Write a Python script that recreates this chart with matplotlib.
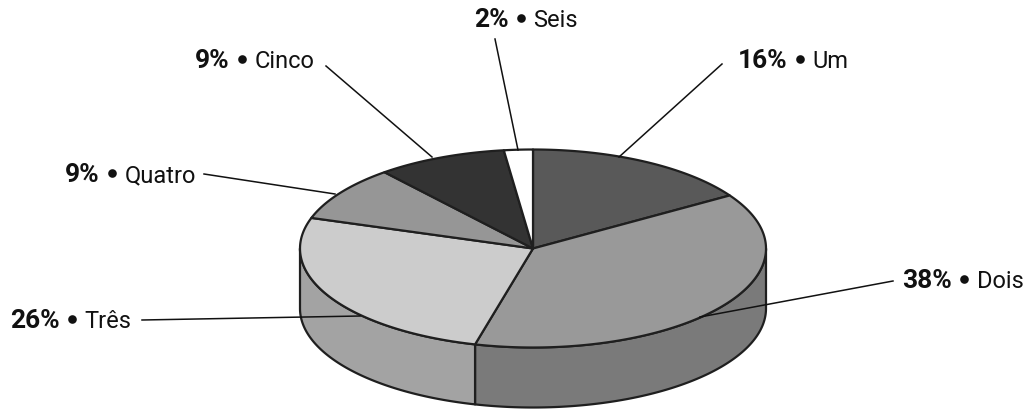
import numpy as np
import matplotlib
matplotlib.use('Agg')
import matplotlib.pyplot as plt
from matplotlib.patches import Polygon

# Fatias do gráfico
names = ['Um', 'Dois', 'Três', 'Quatro', 'Cinco', 'Seis']
values = [16, 38, 26, 9, 9, 2]
percent_labels = ['16%', '38%', '26%', '9%', '9%', '2%']
top_colors = ['#595959', '#999999', '#cccccc', '#969696', '#333333', '#ffffff']
side_colors = ['#474747', '#7a7a7a', '#a3a3a3', '#787878', '#292929', '#cccccc']

# Rótulos e linhas de chamada
label_x = [738, 902, 10, 65, 195, 474]
label_y = [68, 288, 328, 182, 68, 27]
leader_start = [(722, 65), (893, 282), (142, 321), (204, 175), (326, 67), (495, 40)]
leader_end = [(619, 158), (700, 318), (360, 317), (335, 195), (432, 158), (518, 151)]

# Geometria da pizza
cx, cy = 533, 249.5
rx, ry = 233, 99
depth = 60
edge = '#1f1f1f'


def rim(a0, a1, n=200):
    # pontos na borda da elipse, angulo medido a partir do topo no sentido horario
    t = np.radians(np.linspace(a0, a1, n))
    return np.column_stack([cx + rx * np.sin(t), cy - ry * np.cos(t)])


plt.rcParams['font.family'] = ['Roboto', 'DejaVu Sans']

fig = plt.figure(figsize=(10.29, 4.10), dpi=100)
ax = fig.add_axes([0, 0, 1, 1])
ax.set_xlim(0, 1029)
ax.set_ylim(410, 0)
ax.axis('off')

angles = np.concatenate([[0], np.cumsum(values)]) * 360 / sum(values)

# Lateral: so a parte da frente (90 a 270 graus) fica visivel
for i in range(len(values)):
    a0 = max(angles[i], 90)
    a1 = min(angles[i + 1], 270)
    if a1 <= a0:
        continue
    front = rim(a0, a1)
    back = front[::-1] + [0, depth]
    ax.add_patch(Polygon(np.vstack([front, back]), closed=True, facecolor=side_colors[i],
                         edgecolor=edge, linewidth=1.6, joinstyle='round', zorder=2))

# Tampo
for i in range(len(values)):
    pts = np.vstack([[cx, cy], rim(angles[i], angles[i + 1])])
    ax.add_patch(Polygon(pts, closed=True, facecolor=top_colors[i], edgecolor=edge,
                         linewidth=1.6, joinstyle='round', zorder=3))

# Linhas de chamada
for start, end in zip(leader_start, leader_end):
    ax.plot([start[0], end[0]], [start[1], end[1]], color='#111111', linewidth=1.1, zorder=4)

# Rótulos: percentual em negrito, marcador e nome
renderer = fig.canvas.get_renderer()
inv = ax.transData.inverted()
for i in range(len(names)):
    bold = ax.text(label_x[i], label_y[i], percent_labels[i], fontsize=19, fontweight='bold',
                   color='#111111', va='baseline', ha='left')
    right = inv.transform(bold.get_window_extent(renderer).corners())[:, 0].max()
    ax.plot([right + 12], [label_y[i] - 8], 'o', color='#111111', markersize=6.2, markeredgewidth=0)
    ax.text(right + 25, label_y[i], names[i], fontsize=17, color='#111111',
            va='baseline', ha='left')

fig.savefig('out.png', dpi=100, facecolor='white')
